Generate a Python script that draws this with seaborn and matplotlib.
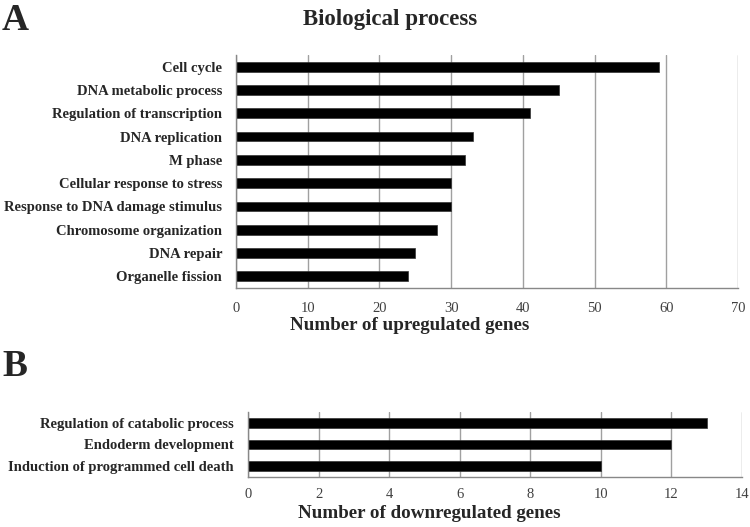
import matplotlib
matplotlib.use('Agg')
import matplotlib.pyplot as plt
import numpy as np
import pandas as pd
import seaborn as sns

# Data
up_terms = ['Cell cycle', 'DNA metabolic process', 'Regulation of transcription',
            'DNA replication', 'M phase', 'Cellular response to stress',
            'Response to DNA damage stimulus', 'Chromosome organization',
            'DNA repair', 'Organelle fission']
up_counts = [59, 45, 41, 33, 32, 30, 30, 28, 25, 24]

down_terms = ['Regulation of catabolic process', 'Endoderm development',
              'Induction of programmed cell death']
down_counts = [13, 12, 10]

up_ticks = [0, 10, 20, 30, 40, 50, 60, 70]
down_ticks = [0, 2, 4, 6, 8, 10, 12, 14]

sns.set_style('white')
plt.rcParams['font.family'] = ['Liberation Serif', 'DejaVu Serif']

fig = plt.figure(figsize=(7.5, 5.27), dpi=100)


def draw_panel(ax, terms, counts, ticks, bar_w, xlabel, label_x, label_y, tick_pad):
    df = pd.DataFrame({'term': terms, 'count': counts})
    sns.barplot(data=df, x='count', y='term', orient='h', color='black',
                width=bar_w, edgecolor='#333333', linewidth=0.5, ax=ax)
    ax.set_xlim(ticks[0], ticks[-1])
    ax.set_ylim(len(terms) - 0.5, -0.5)
    ax.set_xticks(ticks)
    ax.set_xticklabels([str(t) for t in ticks], fontsize=10.5, color='#404040')
    ax.xaxis.grid(True, color='#a0a0a0', linewidth=1)
    ax.set_axisbelow(True)
    for s in ['top', 'right']:
        ax.spines[s].set_visible(False)
    for s in ['left', 'bottom']:
        ax.spines[s].set_color('#888888')
        ax.spines[s].set_linewidth(1)
    ax.tick_params(axis='x', length=4, direction='inout', color='#888888', pad=tick_pad)
    ax.tick_params(axis='y', which='major', length=0, pad=10)
    ax.set_yticks(np.arange(-0.5, len(terms), 1.0), minor=True)
    ax.tick_params(axis='y', which='minor', length=4, color='#888888')
    for lab in ax.get_yticklabels():
        lab.set_fontweight('bold')
        lab.set_fontsize(10.5)
    ax.set_ylabel('')
    ax.set_xlabel(xlabel, fontsize=13.7, fontweight='bold')
    ax.xaxis.set_label_coords(label_x, label_y)


ax1 = fig.add_axes([236 / 750, 1 - 288 / 527, 502 / 750, 233 / 527])
draw_panel(ax1, up_terms, up_counts, up_ticks, 0.42,
           'Number of upregulated genes', (410 - 236) / 502, -0.125, 8)

ax2 = fig.add_axes([248 / 750, 1 - 477 / 527, 494 / 750, 65 / 527])
draw_panel(ax2, down_terms, down_counts, down_ticks, 0.45,
           'Number of downregulated genes', (429 - 248) / 494, -0.43, 6)

fig.text(390 / 750, 1 - 20 / 527, 'Biological process', ha='center', va='center',
         fontsize=16.5, fontweight='bold')
fig.text(2 / 750, 1 - 20 / 527, 'A', ha='left', va='center', fontsize=27, fontweight='bold')
fig.text(2 / 750, 1 - 366 / 527, 'B', ha='left', va='center', fontsize=27, fontweight='bold')

fig.savefig('out.png', dpi=100)
